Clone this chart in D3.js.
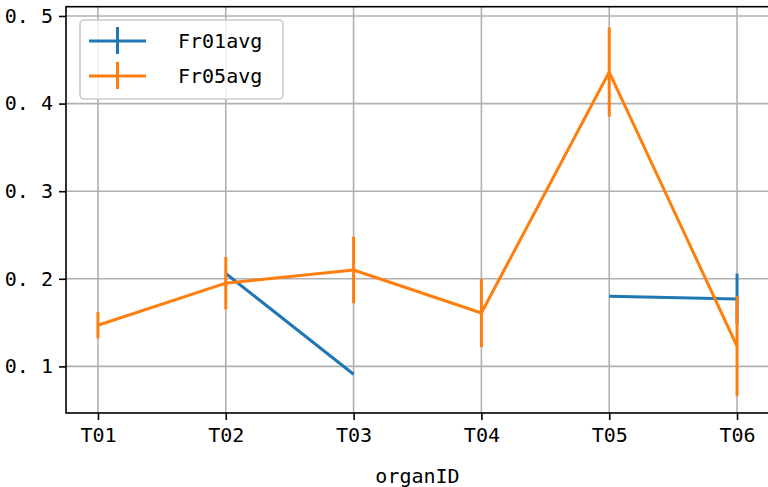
<!DOCTYPE html>
<html>
<head>
<meta charset="utf-8">
<script src="https://cdn.jsdelivr.net/npm/d3@7"></script>
<style>
  html, body { margin: 0; padding: 0; background: #fff; }
  svg { display: block; }
  text { font-family: "DejaVu Sans Mono", "Liberation Mono", monospace; }
</style>
</head>
<body>
<div id="chart"></div>
<script>
const categories = ["T01", "T02", "T03", "T04", "T05", "T06"];
const fr01avg = [null, 0.206, 0.091, null, 0.180, 0.177];
const fr01err = [null, null, null, null, null, 0.029];
const fr05avg = [0.147, 0.195, 0.210, 0.161, 0.436, 0.123];
const fr05err = [0.015, 0.030, 0.038, 0.039, 0.051, 0.057];
const yTicks = [0.1, 0.2, 0.3, 0.4, 0.5];
const yTickLabels = ["0. 1", "0. 2", "0. 3", "0. 4", "0. 5"];
const seriesNames = ["Fr01avg", "Fr05avg"];
const xLabel = "organID";

(function () {
const W = 768, H = 487;
const pL = 66, pR = 769, pT = 6.7, pB = 413;
const blue = "#1f77b4", orange = "#ff7f0e";

const svg = d3.select("#chart").append("svg").attr("width", W).attr("height", H);

const x = d3.scalePoint().domain(categories).range([pL, pR]).padding(0.25);
const y = d3.scaleLinear().domain([0.0468, 0.5106]).range([pB, pT]);

// grid
const grid = svg.append("g");
grid.selectAll(".gx").data(categories).enter().append("line")
  .attr("x1", d => x(d)).attr("x2", d => x(d)).attr("y1", pT).attr("y2", pB)
  .attr("stroke", "#b0b0b0").attr("stroke-width", 1.6);
grid.selectAll(".gy").data(yTicks).enter().append("line")
  .attr("x1", pL).attr("x2", pR).attr("y1", d => y(d)).attr("y2", d => y(d))
  .attr("stroke", "#b0b0b0").attr("stroke-width", 1.6);

// axes
const xAxis = d3.axisBottom(x).tickSize(7).tickPadding(8);
const gx = svg.append("g").attr("transform", `translate(0,${pB})`).call(xAxis);
gx.select(".domain").remove();
gx.selectAll("line").attr("stroke", "#000").attr("stroke-width", 1.6);
gx.selectAll("text").attr("font-size", 20).attr("fill", "#000")
  .attr("font-family", "DejaVu Sans Mono");

const yAxis = d3.axisLeft(y).tickValues(yTicks).tickFormat((d, i) => yTickLabels[i]).tickSize(7).tickPadding(6);
const gy = svg.append("g").attr("transform", `translate(${pL},0)`).call(yAxis);
gy.select(".domain").remove();
gy.selectAll("line").attr("stroke", "#000").attr("stroke-width", 1.6);
gy.selectAll("text").attr("font-size", 20).attr("fill", "#000")
  .attr("font-family", "DejaVu Sans Mono");

// series
function drawSeries(vals, errs, color) {
  const line = d3.line()
    .defined(d => d.v != null)
    .x(d => x(d.c)).y(d => y(d.v));
  const data = categories.map((c, i) => ({ c, v: vals[i], e: errs[i] }));
  svg.append("path").datum(data).attr("d", line)
    .attr("fill", "none").attr("stroke", color).attr("stroke-width", 3)
    .attr("stroke-linejoin", "round");
  svg.append("g").selectAll("line")
    .data(data.filter(d => d.v != null && d.e != null)).enter().append("line")
    .attr("x1", d => x(d.c)).attr("x2", d => x(d.c))
    .attr("y1", d => y(d.v - d.e)).attr("y2", d => y(d.v + d.e))
    .attr("stroke", color).attr("stroke-width", 3);
}
drawSeries(fr01avg, fr01err, blue);
drawSeries(fr05avg, fr05err, orange);

// spines
svg.append("rect").attr("x", pL).attr("y", pT).attr("width", pR - pL).attr("height", pB - pT)
  .attr("fill", "none").attr("stroke", "#000").attr("stroke-width", 1.6);

// x label
svg.append("text").attr("x", (pL + pR) / 2).attr("y", 483)
  .attr("text-anchor", "middle").attr("font-size", 20).attr("fill", "#000").text(xLabel);

// legend
const lg = svg.append("g");
lg.append("rect").attr("x", 80).attr("y", 20).attr("width", 203).attr("height", 79)
  .attr("rx", 4).attr("fill", "#fff").attr("fill-opacity", 0.8)
  .attr("stroke", "#cccccc").attr("stroke-width", 1.6);
[blue, orange].forEach((col, i) => {
  const cy = 41 + i * 35;
  lg.append("line").attr("x1", 89).attr("x2", 146).attr("y1", cy).attr("y2", cy)
    .attr("stroke", col).attr("stroke-width", 3);
  lg.append("line").attr("x1", 117.5).attr("x2", 117.5).attr("y1", cy - 14).attr("y2", cy + 13)
    .attr("stroke", col).attr("stroke-width", 3);
  lg.append("text").attr("x", 178).attr("y", cy + 7).attr("font-size", 20)
    .attr("fill", "#000").text(seriesNames[i]);
});
})();
</script>
</body>
</html>
